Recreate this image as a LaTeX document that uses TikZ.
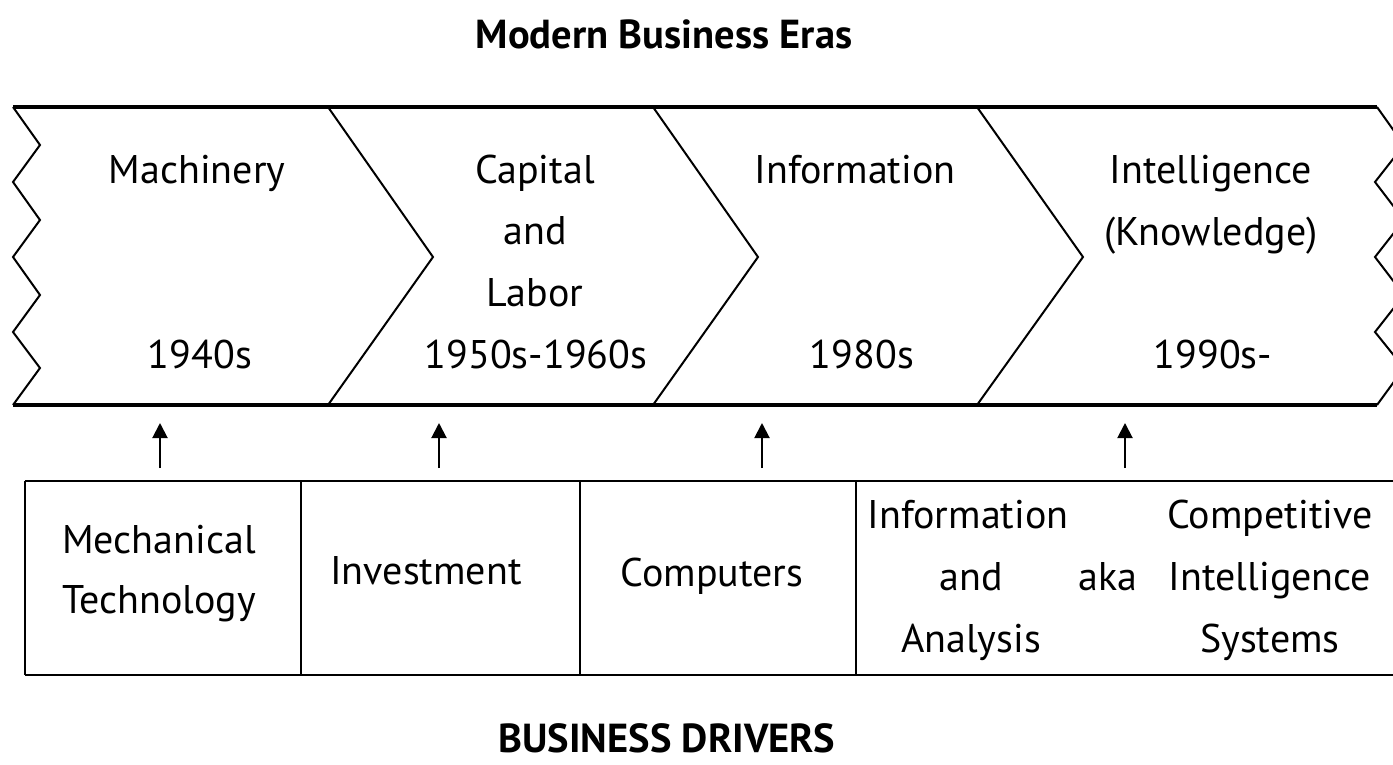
\documentclass[tikz,border=0pt]{standalone}
\usepackage{fontspec}
\setmainfont{PT Sans}
\usetikzlibrary{arrows.meta}
\begin{document}
\begin{tikzpicture}[x=1pt,y=-1pt,
  lbl/.style={inner sep=0pt, anchor=base, font=\fontsize{40}{48}\selectfont},
  ttl/.style={inner sep=0pt, anchor=base, text depth=0pt, font=\fontsize{40.5}{44}\selectfont\bfseries},
  band/.style={line width=3.5pt},
  div/.style={line width=2pt, line join=miter},
  boxline/.style={line width=2.5pt},
  boxsep/.style={line width=1.6pt},
  arr/.style={line width=2pt, -{Triangle[width=15pt,length=15pt]}}]
\useasboundingbox (0,0) rectangle (1393,764);
% title
\node[ttl] (title) at (664,48) {Modern Business Eras};
\node[ttl] (foot) at (667,752) {BUSINESS DRIVERS};
% band
\draw[band] (13,107) -- (1377,107);
\draw[band] (13,405) -- (1377,405);
\draw[div] (13,107) -- (40,145) -- (13,182) -- (40,220) -- (13,257) -- (40,295) -- (13,332) -- (40,368) -- (13,405);
\draw[div] (1377,107) -- (1404,145) -- (1375,182) -- (1404,220) -- (1375,257) -- (1404,295) -- (1375,332) -- (1404,368) -- (1377,405);
\draw[div] (328,107) -- (433,257) -- (328,405);
\draw[div] (653,107) -- (758,257) -- (653,405);
\draw[div] (977,107) -- (1083,257) -- (977,405);
% era labels
\node[lbl] (e1a) at (197,183) {Machinery};
\node[lbl] (e1b) at (200,368) {1940s};
\node[lbl] (e2a) at (535,183) {Capital};
\node[lbl] (e2b) at (535,244) {and};
\node[lbl] (e2c) at (535,306) {Labor};
\node[lbl] (e2d) at (536,368) {1950s-1960s};
\node[lbl] (e3a) at (855,183) {Information};
\node[lbl] (e3b) at (862,368) {1980s};
\node[lbl] (e4a) at (1211,183) {Intelligence};
\node[lbl] (e4b) at (1211,245) {(Knowledge)};
\node[lbl] (e4c) at (1213,368) {1990s-};
% driver boxes
\draw[boxline] (25,481) -- (1393,481);
\draw[boxline] (25,675) -- (1393,675);
\draw[boxsep] (25,481) -- (25,675);
\draw[boxsep] (301,481) -- (301,675);
\draw[boxsep] (580,481) -- (580,675);
\draw[boxsep] (856,481) -- (856,675);
% driver labels
\node[lbl] (d1a) at (159,553) {Mechanical};
\node[lbl] (d1b) at (159,613) {Technology};
\node[lbl] (d2) at (426,584) {Investment};
\node[lbl] (d3) at (712,586) {Computers};
\node[lbl] (d4a) at (968,528) {Information};
\node[lbl] (d4b) at (971,590) {and};
\node[lbl] (d4c) at (971,652) {Analysis};
\node[lbl] (d4d) at (1108,590) {aka};
\node[lbl] (d4e) at (1270,528) {Competitive};
\node[lbl] (d4f) at (1270,590) {Intelligence};
\node[lbl] (d4g) at (1270,652) {Systems};
% arrows
\coordinate (s1) at (160,468); \coordinate (t1) at (160,423);
\coordinate (s2) at (439,468); \coordinate (t2) at (439,423);
\coordinate (s3) at (762,468); \coordinate (t3) at (762,423);
\coordinate (s4) at (1125,468); \coordinate (t4) at (1125,423);
\draw[arr] (s1) -- (t1);
\draw[arr] (s2) -- (t2);
\draw[arr] (s3) -- (t3);
\draw[arr] (s4) -- (t4);
\end{tikzpicture}
\end{document}
